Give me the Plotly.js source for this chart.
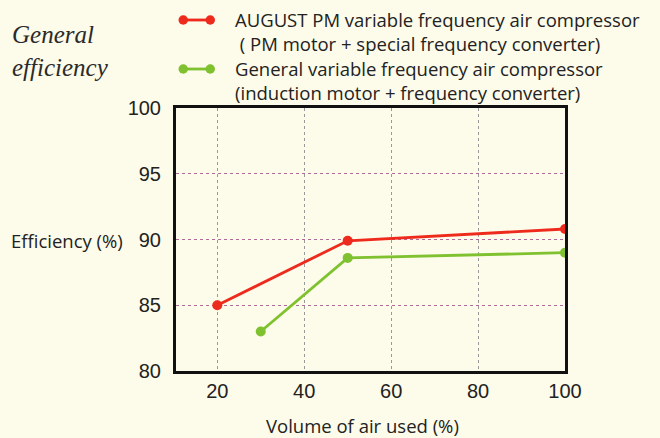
<!DOCTYPE html>
<html><head><meta charset="utf-8">
<script src="https://cdn.plot.ly/plotly-3.0.1.min.js"></script>
<style>html,body{margin:0;padding:0;background:#fdfbe9;}</style>
</head><body>
<div id="chart" style="width:660px;height:438px;"></div>
<script>
var augustX = [20, 50, 100];
var augustY = [85.0, 89.9, 90.8];
var generalX = [30, 50, 100];
var generalY = [83.0, 88.6, 89.0];
var xTicks = [20, 40, 60, 80, 100];
var yTicks = [80, 85, 90, 95, 100];
var augustName = "AUGUST PM variable frequency air compressor<br> ( PM motor + special frequency converter)";
var generalName = "General variable frequency air compressor<br>(induction motor + frequency converter)";
var redColor = '#ee2a1c', greenColor = '#7fc12f';

var traces = [
  {x: augustX, y: augustY, name: augustName, mode: 'lines+markers', type: 'scatter',
   line: {color: redColor, width: 2.8}, marker: {color: redColor, size: 10}},
  {x: generalX, y: generalY, name: generalName, mode: 'lines+markers', type: 'scatter',
   line: {color: greenColor, width: 2.8}, marker: {color: greenColor, size: 10}}
];

// pixel -> paper helpers (plot area: x 176..565, y 108..371)
var L = 176, R = 565, T = 108, B = 371;
function px(x) { return (x - L) / (R - L); }
function py(y) { return (B - y) / (B - T); }

function legendSymbol(yPix, color) {
  return [
    {type: 'line', xref: 'paper', yref: 'paper', x0: px(183), x1: px(210), y0: py(yPix), y1: py(yPix),
     line: {color: color, width: 2.8}},
    {type: 'circle', xref: 'paper', yref: 'paper', x0: px(178.5), x1: px(188), y0: py(yPix - 4.75), y1: py(yPix + 4.75),
     fillcolor: color, line: {width: 0}},
    {type: 'circle', xref: 'paper', yref: 'paper', x0: px(205.5), x1: px(215), y0: py(yPix - 4.75), y1: py(yPix + 4.75),
     fillcolor: color, line: {width: 0}}
  ];
}

var legendFont = {family: 'Open Sans, sans-serif', size: 18.5, color: '#222'};

var layout = {
  width: 660, height: 438,
  paper_bgcolor: '#fdfbe9', plot_bgcolor: '#fdfbe9',
  margin: {l: L, r: 660 - R, t: T, b: 438 - B, autoexpand: false},
  font: {family: 'Liberation Sans, Arial, sans-serif', color: '#222'},
  showlegend: false,
  xaxis: {range: [10.5, 100], tickvals: xTicks, ticktext: xTicks.map(String),
          showgrid: true, gridcolor: '#999', griddash: 'dot', gridwidth: 1,
          showline: true, linecolor: '#111', linewidth: 3, mirror: true,
          ticks: '', tickfont: {size: 20, color: '#222'}, zeroline: false},
  yaxis: {range: [80, 100], tickvals: yTicks, ticktext: yTicks.map(String),
          showgrid: true, gridcolor: '#b06a9a', griddash: 'dot', gridwidth: 1,
          showline: true, linecolor: '#111', linewidth: 3, mirror: true,
          ticks: 'outside', ticklen: 8, tickcolor: 'rgba(0,0,0,0)',
          tickfont: {size: 20, color: '#222'}, zeroline: false},
  shapes: legendSymbol(20, redColor).concat(legendSymbol(69, greenColor)),
  annotations: [
    {text: augustName, xref: 'paper', yref: 'paper', x: px(233), y: py(32), xanchor: 'left', yanchor: 'middle',
     showarrow: false, align: 'left', font: legendFont},
    {text: generalName, xref: 'paper', yref: 'paper', x: px(233), y: py(81), xanchor: 'left', yanchor: 'middle',
     showarrow: false, align: 'left', font: legendFont},
    {text: '<i>General<br>efficiency</i>', xref: 'paper', yref: 'paper', x: px(10), y: py(51),
     xanchor: 'left', yanchor: 'middle', showarrow: false, align: 'left',
     font: {family: 'Liberation Serif, serif', size: 25, color: '#2a2a2a'}},
    {text: 'Efficiency (%)', xref: 'paper', yref: 'paper', x: px(9), y: py(240),
     xanchor: 'left', yanchor: 'middle', showarrow: false,
     font: {family: 'Open Sans, sans-serif', size: 18.5, color: '#222'}},
    {text: 'Volume of air used (%)', xref: 'paper', yref: 'paper', x: 0.48, y: py(425),
     xanchor: 'center', yanchor: 'middle', showarrow: false,
     font: {family: 'Open Sans, sans-serif', size: 18.5, color: '#222'}}
  ]
};
Plotly.newPlot('chart', traces, layout, {displayModeBar: false});
</script>
</body></html>
